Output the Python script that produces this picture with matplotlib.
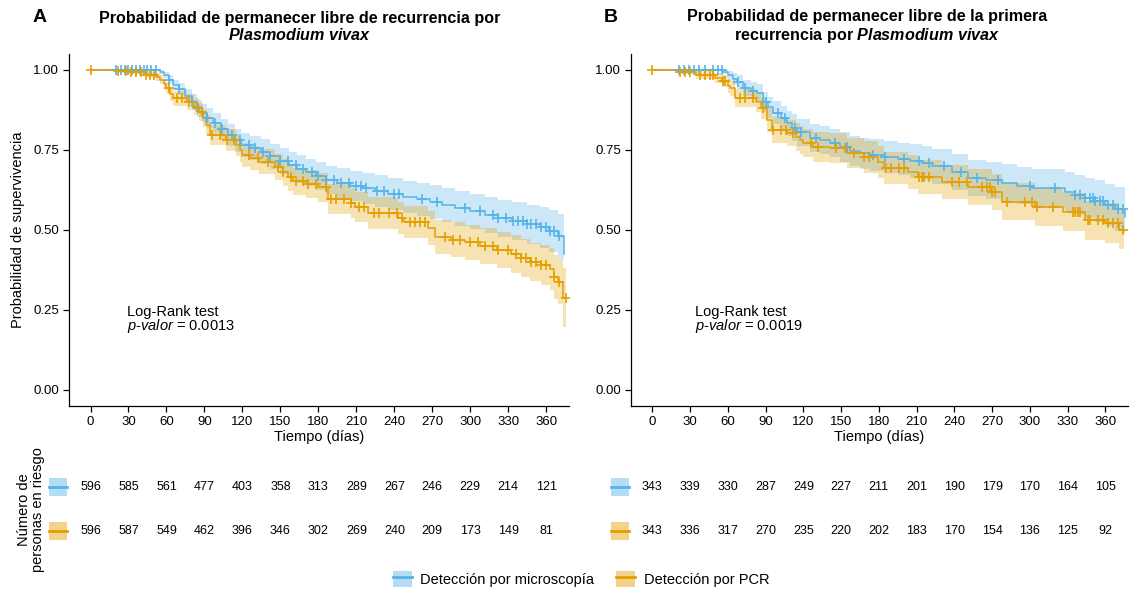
import numpy as np
import matplotlib
matplotlib.use("Agg")
import matplotlib.pyplot as plt
from matplotlib.patches import Patch, Rectangle
from matplotlib.lines import Line2D

plt.rcParams['font.family'] = ['Liberation Sans', 'DejaVu Sans']
plt.rcParams['mathtext.fontset'] = 'custom'
plt.rcParams['mathtext.rm'] = 'Liberation Sans'
plt.rcParams['mathtext.it'] = 'Liberation Sans:italic'
plt.rcParams['mathtext.bf'] = 'Liberation Sans:bold'
plt.rcParams['mathtext.bfit'] = 'Liberation Sans:italic:bold'

BLUE = '#56B4E9'
ORANGE = '#E69F00'

# ---- Panel A: recurrence-free, microscopy (blue) ----
a_mic_t = [0, 55, 58, 62, 65, 70, 75, 80, 84, 88, 92, 97, 103, 109, 114, 119, 126, 135, 142, 150,
           157, 163, 170, 178, 186, 195, 205, 215, 225, 235, 247, 258, 268, 278, 288, 300, 312, 322,
           333, 345, 355, 362, 369, 374]
a_mic_s = [1.0, 0.994, 0.984, 0.97, 0.953, 0.94, 0.92, 0.9, 0.88, 0.865, 0.85, 0.834, 0.815, 0.797,
           0.78, 0.766, 0.756, 0.744, 0.73, 0.715, 0.703, 0.69, 0.68, 0.668, 0.656, 0.647, 0.638,
           0.63, 0.622, 0.613, 0.603, 0.596, 0.588, 0.578, 0.568, 0.558, 0.547, 0.537, 0.527, 0.518,
           0.508, 0.496, 0.48, 0.425]
a_mic_lo = [1.0, 0.988, 0.974, 0.956, 0.936, 0.921, 0.898, 0.876, 0.854, 0.837, 0.82, 0.802, 0.782,
            0.762, 0.744, 0.729, 0.718, 0.705, 0.69, 0.674, 0.661, 0.647, 0.637, 0.624, 0.611, 0.601,
            0.591, 0.582, 0.573, 0.563, 0.552, 0.544, 0.535, 0.524, 0.513, 0.502, 0.49, 0.479, 0.468,
            0.457, 0.445, 0.43, 0.41, 0.32]
a_mic_hi = [1.0, 1.0, 0.994, 0.984, 0.97, 0.959, 0.942, 0.924, 0.906, 0.893, 0.88, 0.866, 0.848,
            0.832, 0.816, 0.803, 0.794, 0.783, 0.77, 0.756, 0.745, 0.733, 0.723, 0.712, 0.701, 0.693,
            0.685, 0.678, 0.671, 0.663, 0.654, 0.648, 0.641, 0.632, 0.623, 0.614, 0.604, 0.595, 0.586,
            0.579, 0.571, 0.562, 0.55, 0.55]
a_mic_cens = [20, 24, 27, 30, 33, 36, 39, 42, 45, 48, 52, 62, 70, 80, 85, 92, 98, 104, 112, 118, 125,
              130, 136, 142, 150, 156, 162, 168, 175, 180, 186, 192, 198, 204, 210, 214, 218, 226,
              232, 240, 244, 262, 274, 296, 308, 318, 322, 328, 334, 338, 342, 345, 348, 352, 356,
              360, 363, 366, 370]

# ---- Panel A: recurrence-free, PCR (orange) ----
a_pcr_t = [0, 20, 30, 44, 52, 55, 58, 60, 63, 65, 76, 82, 86, 89, 91, 94, 107, 115, 118, 120, 126,
           133, 146, 152, 156, 160, 170, 180, 188, 206, 209, 219, 243, 248, 267, 272, 285, 296, 308,
           321, 332, 340, 347, 356, 363, 366, 369, 373]
a_pcr_s = [1.0, 0.997, 0.994, 0.984, 0.978, 0.969, 0.955, 0.944, 0.925, 0.912, 0.9, 0.885, 0.869,
           0.85, 0.828, 0.797, 0.781, 0.766, 0.75, 0.734, 0.724, 0.713, 0.697, 0.68, 0.665, 0.652,
           0.643, 0.634, 0.597, 0.585, 0.572, 0.553, 0.537, 0.525, 0.506, 0.478, 0.47, 0.461, 0.45,
           0.438, 0.425, 0.412, 0.4, 0.39, 0.378, 0.353, 0.338, 0.288]
a_pcr_lo = [1.0, 0.992, 0.987, 0.974, 0.966, 0.955, 0.939, 0.926, 0.904, 0.889, 0.876, 0.859, 0.842,
            0.821, 0.797, 0.765, 0.747, 0.731, 0.714, 0.697, 0.686, 0.674, 0.657, 0.639, 0.623, 0.609,
            0.599, 0.589, 0.551, 0.538, 0.524, 0.504, 0.487, 0.474, 0.454, 0.425, 0.416, 0.406, 0.394,
            0.381, 0.367, 0.353, 0.34, 0.328, 0.313, 0.285, 0.268, 0.197]
a_pcr_hi = [1.0, 1.0, 1.0, 0.994, 0.99, 0.983, 0.971, 0.962, 0.946, 0.935, 0.924, 0.911, 0.896,
            0.879, 0.859, 0.829, 0.815, 0.801, 0.786, 0.771, 0.762, 0.752, 0.737, 0.721, 0.707, 0.695,
            0.687, 0.679, 0.643, 0.632, 0.62, 0.602, 0.587, 0.576, 0.558, 0.531, 0.524, 0.516, 0.506,
            0.495, 0.483, 0.471, 0.46, 0.452, 0.443, 0.421, 0.408, 0.38]
a_pcr_cens = [0, 22, 28, 32, 36, 40, 44, 47, 50, 62, 68, 72, 78, 84, 88, 96, 102, 108, 113, 125,
              132, 140, 148, 152, 158, 162, 168, 172, 178, 186, 190, 194, 200, 206, 212, 216, 224,
              228, 236, 242, 246, 252, 256, 260, 264, 280, 286, 292, 300, 306, 312, 318, 322, 330,
              336, 340, 344, 348, 352, 356, 360, 366, 370, 376]

# ---- Panel B: first recurrence, microscopy (blue) ----
b_mic_t = [0, 56, 60, 64, 67, 72, 78, 83, 88, 92, 96, 102, 107, 111, 115, 125, 133, 141, 149, 157,
           165, 173, 184, 195, 205, 214, 222, 238, 251, 265, 278, 290, 302, 328, 336, 344, 352, 360,
           368, 376]
b_mic_s = [1.0, 0.994, 0.984, 0.972, 0.963, 0.944, 0.935, 0.928, 0.9, 0.883, 0.866, 0.85, 0.834,
           0.82, 0.806, 0.788, 0.78, 0.772, 0.76, 0.748, 0.74, 0.734, 0.728, 0.722, 0.716, 0.709,
           0.699, 0.681, 0.663, 0.655, 0.647, 0.639, 0.631, 0.619, 0.61, 0.6, 0.59, 0.578, 0.566, 0.541]
b_mic_lo = [1.0, 0.986, 0.97, 0.954, 0.942, 0.919, 0.908, 0.9, 0.868, 0.849, 0.83, 0.812, 0.795,
            0.779, 0.764, 0.745, 0.736, 0.727, 0.714, 0.701, 0.692, 0.685, 0.678, 0.671, 0.664, 0.656,
            0.645, 0.626, 0.607, 0.598, 0.589, 0.58, 0.571, 0.557, 0.547, 0.536, 0.525, 0.512, 0.498,
            0.47]
b_mic_hi = [1.0, 1.0, 0.998, 0.99, 0.984, 0.969, 0.962, 0.956, 0.932, 0.917, 0.902, 0.888, 0.873,
            0.861, 0.848, 0.831, 0.824, 0.817, 0.806, 0.795, 0.788, 0.783, 0.778, 0.773, 0.768, 0.762,
            0.753, 0.736, 0.719, 0.712, 0.705, 0.698, 0.691, 0.681, 0.673, 0.664, 0.655, 0.644, 0.634,
            0.612]
b_mic_cens = [21, 25, 29, 33, 37, 42, 48, 52, 55, 68, 74, 80, 90, 100, 105, 113, 118, 130, 145, 155,
              175, 185, 200, 212, 220, 232, 245, 258, 275, 300, 320, 336, 340, 344, 348, 350, 352,
              356, 358, 362, 366, 370, 374]

# ---- Panel B: first recurrence, PCR (orange) ----
b_pcr_t = [0, 20, 35, 50, 55, 60, 62, 66, 82, 86, 91, 95, 107, 114, 117, 120, 128, 141, 155, 168,
           179, 184, 203, 211, 230, 251, 270, 278, 304, 326, 344, 360, 371, 375]
b_pcr_s = [1.0, 0.994, 0.984, 0.975, 0.966, 0.95, 0.944, 0.912, 0.9, 0.881, 0.844, 0.813, 0.803,
           0.79, 0.781, 0.772, 0.759, 0.756, 0.741, 0.728, 0.713, 0.694, 0.681, 0.666, 0.65, 0.634,
           0.619, 0.588, 0.572, 0.556, 0.531, 0.522, 0.5, 0.494]
b_pcr_lo = [1.0, 0.986, 0.971, 0.959, 0.947, 0.927, 0.92, 0.883, 0.869, 0.847, 0.806, 0.772, 0.761,
            0.747, 0.737, 0.727, 0.713, 0.709, 0.693, 0.679, 0.663, 0.643, 0.629, 0.613, 0.596, 0.578,
            0.562, 0.53, 0.513, 0.496, 0.47, 0.46, 0.44, 0.44]
b_pcr_hi = [1.0, 1.0, 0.997, 0.991, 0.985, 0.973, 0.968, 0.941, 0.931, 0.915, 0.882, 0.854, 0.845,
            0.833, 0.825, 0.817, 0.805, 0.803, 0.789, 0.777, 0.763, 0.745, 0.733, 0.719, 0.704, 0.69,
            0.676, 0.646, 0.631, 0.616, 0.592, 0.584, 0.563, 0.56]
b_pcr_cens = [0, 22, 26, 30, 38, 42, 46, 48, 56, 58, 70, 74, 80, 88, 96, 102, 106, 112, 126, 132,
              146, 153, 160, 168, 172, 186, 190, 196, 200, 212, 214, 216, 220, 238, 244, 250, 262,
              266, 268, 270, 272, 282, 296, 302, 306, 318, 334, 336, 338, 340, 346, 348, 354, 358,
              362, 366, 370, 374]

# ---- risk tables ----
risk_times = list(range(0, 361, 30))
a_mic_risk = [596, 585, 561, 477, 403, 358, 313, 289, 267, 246, 229, 214, 121]
a_pcr_risk = [596, 587, 549, 462, 396, 346, 302, 269, 240, 209, 173, 149, 81]
b_mic_risk = [343, 339, 330, 287, 249, 227, 211, 201, 190, 179, 170, 164, 105]
b_pcr_risk = [343, 336, 317, 270, 235, 220, 202, 183, 170, 154, 136, 125, 92]

labels = ['Detección por microscopía', 'Detección por PCR']
pvals = ['0.0013', '0.0019']
XLIM = (-17, 378)


def km(ax, t, s, lo, hi, cens, color):
    t_end = max(t[-1], max(cens))
    tt = np.array(t + [t_end])
    ax.fill_between(tt, lo + [lo[-1]], hi + [hi[-1]], step='post', color=color, alpha=0.3, lw=0)
    return tt, np.array(s + [s[-1]])


def draw_panel(ax, curves):
    steps = []
    for c in curves:
        steps.append(km(ax, *c))
    for (tt, ss), c in zip(steps, curves):
        ax.step(tt, ss, where='post', color=c[-1], lw=1.1)
    for (tt, ss), c in zip(steps, curves):
        cens = np.array(c[4])
        idx = np.searchsorted(tt, cens, side='right') - 1
        ax.plot(cens, ss[idx], ls='none', marker='+', ms=7, mew=1.2, color=c[-1])
    ax.set_xlim(*XLIM)
    ax.set_ylim(-0.05, 1.05)
    ax.set_xticks(risk_times)
    ax.set_yticks([0, 0.25, 0.5, 0.75, 1.0])
    ax.set_yticklabels(['0.00', '0.25', '0.50', '0.75', '1.00'])
    for sp in ['top', 'right']:
        ax.spines[sp].set_visible(False)
    for sp in ['left', 'bottom']:
        ax.spines[sp].set_linewidth(0.9)
    ax.tick_params(labelsize=9.5, length=4, width=0.9, colors='black', pad=3)
    ax.set_xlabel('Tiempo (días)', fontsize=10.5, labelpad=2)


def draw_table(ax, mic, pcr):
    ax.set_xlim(*XLIM)
    ax.set_ylim(0.5, 2.5)
    ax.axis('off')
    for row, vals, color in [(2, mic, BLUE), (1, pcr, ORANGE)]:
        for x, v in zip(risk_times, vals):
            ax.text(x, row, str(v), ha='center', va='center', fontsize=9)
        tr = ax.get_yaxis_transform()
        ax.add_patch(Rectangle((-0.04, row - 0.2), 0.036, 0.4, transform=tr, clip_on=False,
                               facecolor=color, alpha=0.45, lw=0))
        ax.add_line(Line2D([-0.04, -0.004], [row, row], transform=tr, clip_on=False, color=color, lw=2))


fig = plt.figure(figsize=(11.3, 5.92), dpi=100)


def px(l, t, r, b):
    return [l / 1130, 1 - b / 592, (r - l) / 1130, (b - t) / 592]


axA = fig.add_axes(px(69, 54, 569, 406))
axB = fig.add_axes(px(631, 54, 1128, 406))
tabA = fig.add_axes(px(69, 465, 569, 553))
tabB = fig.add_axes(px(631, 465, 1128, 553))

draw_panel(axA, [(a_mic_t, a_mic_s, a_mic_lo, a_mic_hi, a_mic_cens, BLUE),
                 (a_pcr_t, a_pcr_s, a_pcr_lo, a_pcr_hi, a_pcr_cens, ORANGE)])
draw_panel(axB, [(b_mic_t, b_mic_s, b_mic_lo, b_mic_hi, b_mic_cens, BLUE),
                 (b_pcr_t, b_pcr_s, b_pcr_lo, b_pcr_hi, b_pcr_cens, ORANGE)])
draw_table(tabA, a_mic_risk, a_pcr_risk)
draw_table(tabB, b_mic_risk, b_pcr_risk)

for ax, p, x0 in [(axA, pvals[0], 29), (axB, pvals[1], 34)]:
    ax.text(x0, 0.245, 'Log-Rank test', fontsize=10.5, va='center')
    ax.text(x0, 0.2, r'$\mathit{p}$-$\mathit{valor}$ = ' + p, fontsize=10.5, va='center')

# titles and panel letters
fig.text(300 / 1130, 1 - 27 / 592,
         'Probabilidad de permanecer libre de recurrencia por\n$\\mathbfit{Plasmodium\\ vivax}$',
         ha='center', va='center', fontsize=11.6, fontweight='bold', linespacing=1.1)
fig.text(867 / 1130, 1 - 27 / 592,
         'Probabilidad de permanecer libre de la primera\nrecurrencia por $\\mathbfit{Plasmodium\\ vivax}$',
         ha='center', va='center', fontsize=11.6, fontweight='bold', linespacing=1.1)
fig.text(40 / 1130, 1 - 18 / 592, 'A', ha='center', va='center', fontsize=14, fontweight='bold')
fig.text(611 / 1130, 1 - 18 / 592, 'B', ha='center', va='center', fontsize=14, fontweight='bold')

fig.text(18 / 1130, 1 - 230 / 592, 'Probabilidad de supervivencia', rotation=90,
         ha='center', va='center', fontsize=10.5)
fig.text(31 / 1130, 1 - 510 / 592, 'Número de\npersonas en riesgo', rotation=90,
         ha='center', va='center', fontsize=10.5, linespacing=1.0)

handles = [(Patch(facecolor=BLUE, alpha=0.45, lw=0), Line2D([], [], color=BLUE, lw=2)),
           (Patch(facecolor=ORANGE, alpha=0.45, lw=0), Line2D([], [], color=ORANGE, lw=2))]
fig.legend(handles, labels, loc='center', bbox_to_anchor=(581 / 1130, 1 - 579 / 592), ncol=2,
           frameon=False, fontsize=10.5, handlelength=1.3, handleheight=1.3, columnspacing=1.5,
           handletextpad=0.6)

fig.savefig('out.png', dpi=100)
